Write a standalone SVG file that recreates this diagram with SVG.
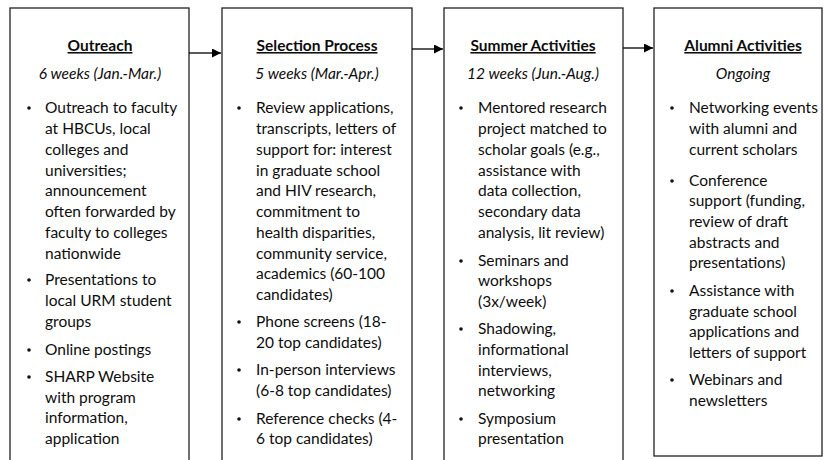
<svg xmlns="http://www.w3.org/2000/svg" width="824" height="460" viewBox="0 0 824 460">
  <defs>
    <marker id="arrow" viewBox="0 0 10 10" refX="10" refY="5" markerWidth="9" markerHeight="9" markerUnits="userSpaceOnUse" orient="auto">
      <path d="M0,0 L10,5 L0,10 z" fill="#000"/>
    </marker>
    <style>
      .box { fill: #fff; stroke: #222; stroke-width: 1.3; }
      .t { font-family: Lato, "Liberation Sans", sans-serif; font-size: 15.5px; fill: #0d0d0d; }
      .title { font-weight: bold; text-decoration: underline; text-anchor: middle; }
      .sub { font-style: italic; text-anchor: middle; }
      .dot { fill: #111; }
      .conn { stroke: #000; stroke-width: 1.3; fill: none; }
    </style>
  </defs>
  <rect width="824" height="460" fill="#fff"/>

  <!-- Stage 1 -->
  <g id="outreach">
    <rect class="box" x="10" y="8" width="179" height="460"/>
    <text class="t title" x="100" y="51">Outreach</text>
    <text class="t sub" x="100" y="79">6 weeks (Jan.-Mar.)</text>
    <circle class="dot" cx="29" cy="108" r="1.8"/>
    <circle class="dot" cx="29" cy="280" r="1.8"/>
    <circle class="dot" cx="29" cy="350" r="1.8"/>
    <circle class="dot" cx="29" cy="377" r="1.8"/>
    <text class="t" x="45">
      <tspan x="45" y="113">Outreach to faculty</tspan>
      <tspan x="45" y="134">at HBCUs, local</tspan>
      <tspan x="45" y="155">colleges and</tspan>
      <tspan x="45" y="176">universities;</tspan>
      <tspan x="45" y="196">announcement</tspan>
      <tspan x="45" y="217">often forwarded by</tspan>
      <tspan x="45" y="238">faculty to colleges</tspan>
      <tspan x="45" y="259">nationwide</tspan>
      <tspan x="45" y="285">Presentations to</tspan>
      <tspan x="45" y="306">local URM student</tspan>
      <tspan x="45" y="327">groups</tspan>
      <tspan x="45" y="355">Online postings</tspan>
      <tspan x="45" y="382">SHARP Website</tspan>
      <tspan x="45" y="403">with program</tspan>
      <tspan x="45" y="423">information,</tspan>
      <tspan x="45" y="444">application</tspan>
    </text>
  </g>

  <!-- Stage 2 -->
  <g id="selection">
    <rect class="box" x="222" y="8" width="190" height="460"/>
    <text class="t title" x="317" y="51">Selection Process</text>
    <text class="t sub" x="317" y="79">5 weeks (Mar.-Apr.)</text>
    <circle class="dot" cx="239" cy="108" r="1.8"/>
    <circle class="dot" cx="239" cy="322" r="1.8"/>
    <circle class="dot" cx="239" cy="370" r="1.8"/>
    <circle class="dot" cx="239" cy="419" r="1.8"/>
    <text class="t">
      <tspan x="256" y="113">Review applications,</tspan>
      <tspan x="256" y="134">transcripts, letters of</tspan>
      <tspan x="256" y="155">support for: interest</tspan>
      <tspan x="256" y="176">in graduate school</tspan>
      <tspan x="256" y="196">and HIV research,</tspan>
      <tspan x="256" y="217">commitment to</tspan>
      <tspan x="256" y="238">health disparities,</tspan>
      <tspan x="256" y="259">community service,</tspan>
      <tspan x="256" y="279">academics (60-100</tspan>
      <tspan x="256" y="300">candidates)</tspan>
      <tspan x="256" y="327">Phone screens (18-</tspan>
      <tspan x="256" y="348">20 top candidates)</tspan>
      <tspan x="256" y="375">In-person interviews</tspan>
      <tspan x="256" y="396">(6-8 top candidates)</tspan>
      <tspan x="256" y="424">Reference checks (4-</tspan>
      <tspan x="256" y="444">6 top candidates)</tspan>
    </text>
  </g>

  <!-- Stage 3 -->
  <g id="summer">
    <rect class="box" x="444" y="8" width="179" height="460"/>
    <text class="t title" x="533" y="51">Summer Activities</text>
    <text class="t sub" x="533" y="79">12 weeks (Jun.-Aug.)</text>
    <circle class="dot" cx="461" cy="108" r="1.8"/>
    <circle class="dot" cx="461" cy="261" r="1.8"/>
    <circle class="dot" cx="461" cy="329" r="1.8"/>
    <circle class="dot" cx="461" cy="419" r="1.8"/>
    <text class="t">
      <tspan x="478" y="113">Mentored research</tspan>
      <tspan x="478" y="134">project matched to</tspan>
      <tspan x="478" y="155">scholar goals (e.g.,</tspan>
      <tspan x="478" y="176">assistance with</tspan>
      <tspan x="478" y="196">data collection,</tspan>
      <tspan x="478" y="217">secondary data</tspan>
      <tspan x="478" y="238">analysis, lit review)</tspan>
      <tspan x="478" y="266">Seminars and</tspan>
      <tspan x="478" y="286">workshops</tspan>
      <tspan x="478" y="307">(3x/week)</tspan>
      <tspan x="478" y="334">Shadowing,</tspan>
      <tspan x="478" y="355">informational</tspan>
      <tspan x="478" y="376">interviews,</tspan>
      <tspan x="478" y="396">networking</tspan>
      <tspan x="478" y="424">Symposium</tspan>
      <tspan x="478" y="444">presentation</tspan>
    </text>
  </g>

  <!-- Stage 4 -->
  <g id="alumni">
    <rect class="box" x="654" y="8" width="168" height="448"/>
    <text class="t title" x="743" y="51">Alumni Activities</text>
    <text class="t sub" x="743" y="79">Ongoing</text>
    <circle class="dot" cx="672" cy="108" r="1.8"/>
    <circle class="dot" cx="672" cy="181" r="1.8"/>
    <circle class="dot" cx="672" cy="291" r="1.8"/>
    <circle class="dot" cx="672" cy="380" r="1.8"/>
    <text class="t">
      <tspan x="689" y="113">Networking events</tspan>
      <tspan x="689" y="134">with alumni and</tspan>
      <tspan x="689" y="155">current scholars</tspan>
      <tspan x="689" y="186">Conference</tspan>
      <tspan x="689" y="206">support (funding,</tspan>
      <tspan x="689" y="227">review of draft</tspan>
      <tspan x="689" y="248">abstracts and</tspan>
      <tspan x="689" y="268">presentations)</tspan>
      <tspan x="689" y="296">Assistance with</tspan>
      <tspan x="689" y="317">graduate school</tspan>
      <tspan x="689" y="337">applications and</tspan>
      <tspan x="689" y="358">letters of support</tspan>
      <tspan x="689" y="385">Webinars and</tspan>
      <tspan x="689" y="406">newsletters</tspan>
    </text>
  </g>

  <!-- Connectors between stages -->
  <g id="connectors">
    <line class="conn" x1="189" y1="53" x2="221" y2="53" marker-end="url(#arrow)"/>
    <line class="conn" x1="412" y1="49" x2="443" y2="49" marker-end="url(#arrow)"/>
    <line class="conn" x1="623" y1="48" x2="653" y2="48" marker-end="url(#arrow)"/>
  </g>
</svg>
